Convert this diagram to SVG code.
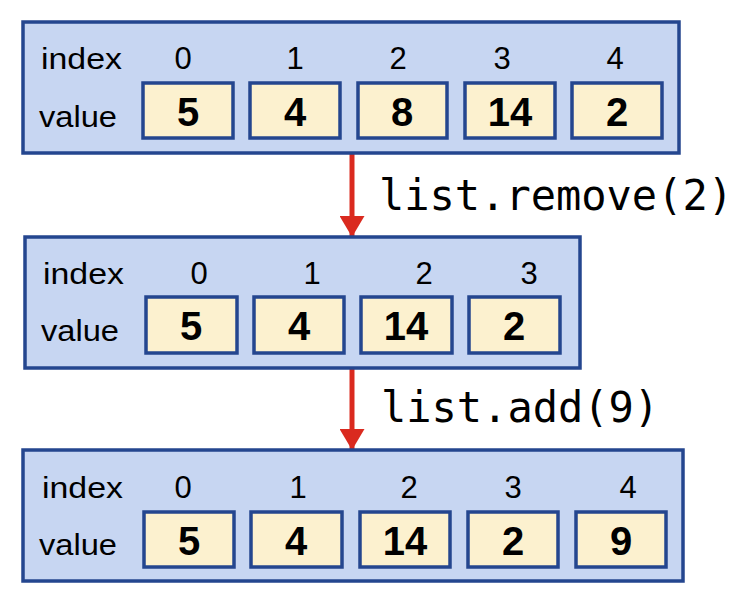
<svg xmlns="http://www.w3.org/2000/svg" width="745" height="600" viewBox="0 0 745 600">
<style>
.panel{fill:#C7D6F2;stroke:#24468F;stroke-width:3.5}
.cell{fill:#FCF1CF;stroke:#24468F;stroke-width:3.5}
.lbl{font-family:"Liberation Sans",Arial,sans-serif;font-size:29px;fill:#000}
.idx{font-family:"Liberation Sans",Arial,sans-serif;font-size:31px;fill:#000;text-anchor:middle}
.val{font-family:"Liberation Sans",Arial,sans-serif;font-size:40px;font-weight:bold;fill:#000;text-anchor:middle}
.code{font-family:"DejaVu Sans Mono","Liberation Mono",monospace;font-size:42px;fill:#000}
.arrow{stroke:#DA2A1F;stroke-width:5;fill:none}
</style>
<defs>
<marker id="ah" markerWidth="5" markerHeight="5" refX="4.2" refY="2.5" orient="auto" markerUnits="strokeWidth" viewBox="0 0 5 5">
<path d="M0,0 L4.2,2.5 L0,5 Z" fill="#DA2A1F"/>
</marker>
</defs>
<g id="connectors">
<line class="arrow" x1="352" y1="153" x2="352" y2="237" marker-end="url(#ah)"/>
<line class="arrow" x1="352" y1="368" x2="352" y2="450" marker-end="url(#ah)"/>
<text class="code" x="379" y="210">list.remove(2)</text>
<text class="code" x="381" y="422">list.add(9)</text>
</g>
<g id="list1">
<rect class="panel" x="23" y="22" width="656" height="131"/>
<text class="lbl" x="41" y="69" textLength="81" lengthAdjust="spacingAndGlyphs">index</text>
<text class="lbl" x="39" y="127" textLength="78" lengthAdjust="spacingAndGlyphs">value</text>
<text class="idx" x="183" y="69">0</text>
<text class="idx" x="295" y="69">1</text>
<text class="idx" x="398" y="69">2</text>
<text class="idx" x="502" y="69">3</text>
<text class="idx" x="615" y="69">4</text>
<rect class="cell" x="143" y="83" width="90" height="55"/>
<rect class="cell" x="250" y="83" width="90" height="55"/>
<rect class="cell" x="358" y="83" width="89" height="55"/>
<rect class="cell" x="465" y="83" width="90" height="55"/>
<rect class="cell" x="572" y="83" width="90" height="55"/>
<text class="val" x="188" y="126">5</text>
<text class="val" x="295" y="126">4</text>
<text class="val" x="402" y="126">8</text>
<text class="val" x="510" y="126">14</text>
<text class="val" x="617" y="126">2</text>
</g>
<g id="list2">
<rect class="panel" x="25" y="237" width="555" height="131"/>
<text class="lbl" x="43" y="284" textLength="81" lengthAdjust="spacingAndGlyphs">index</text>
<text class="lbl" x="41" y="341" textLength="78" lengthAdjust="spacingAndGlyphs">value</text>
<text class="idx" x="199" y="284">0</text>
<text class="idx" x="312" y="284">1</text>
<text class="idx" x="424" y="284">2</text>
<text class="idx" x="529" y="284">3</text>
<rect class="cell" x="146" y="297" width="91" height="56"/>
<rect class="cell" x="254" y="297" width="90" height="56"/>
<rect class="cell" x="361" y="297" width="91" height="56"/>
<rect class="cell" x="469" y="297" width="91" height="56"/>
<text class="val" x="191" y="340">5</text>
<text class="val" x="299" y="340">4</text>
<text class="val" x="406" y="340">14</text>
<text class="val" x="514" y="340">2</text>
</g>
<g id="list3">
<rect class="panel" x="23" y="450" width="660" height="131"/>
<text class="lbl" x="42" y="498" textLength="81" lengthAdjust="spacingAndGlyphs">index</text>
<text class="lbl" x="39" y="555" textLength="78" lengthAdjust="spacingAndGlyphs">value</text>
<text class="idx" x="183" y="498">0</text>
<text class="idx" x="298" y="498">1</text>
<text class="idx" x="409" y="498">2</text>
<text class="idx" x="513" y="498">3</text>
<text class="idx" x="628" y="498">4</text>
<rect class="cell" x="144" y="512" width="90" height="55"/>
<rect class="cell" x="251" y="512" width="91" height="55"/>
<rect class="cell" x="360" y="512" width="90" height="55"/>
<rect class="cell" x="468" y="512" width="90" height="55"/>
<rect class="cell" x="576" y="512" width="90" height="55"/>
<text class="val" x="189" y="555">5</text>
<text class="val" x="296" y="555">4</text>
<text class="val" x="405" y="555">14</text>
<text class="val" x="513" y="555">2</text>
<text class="val" x="621" y="555">9</text>
</g>
</svg>
